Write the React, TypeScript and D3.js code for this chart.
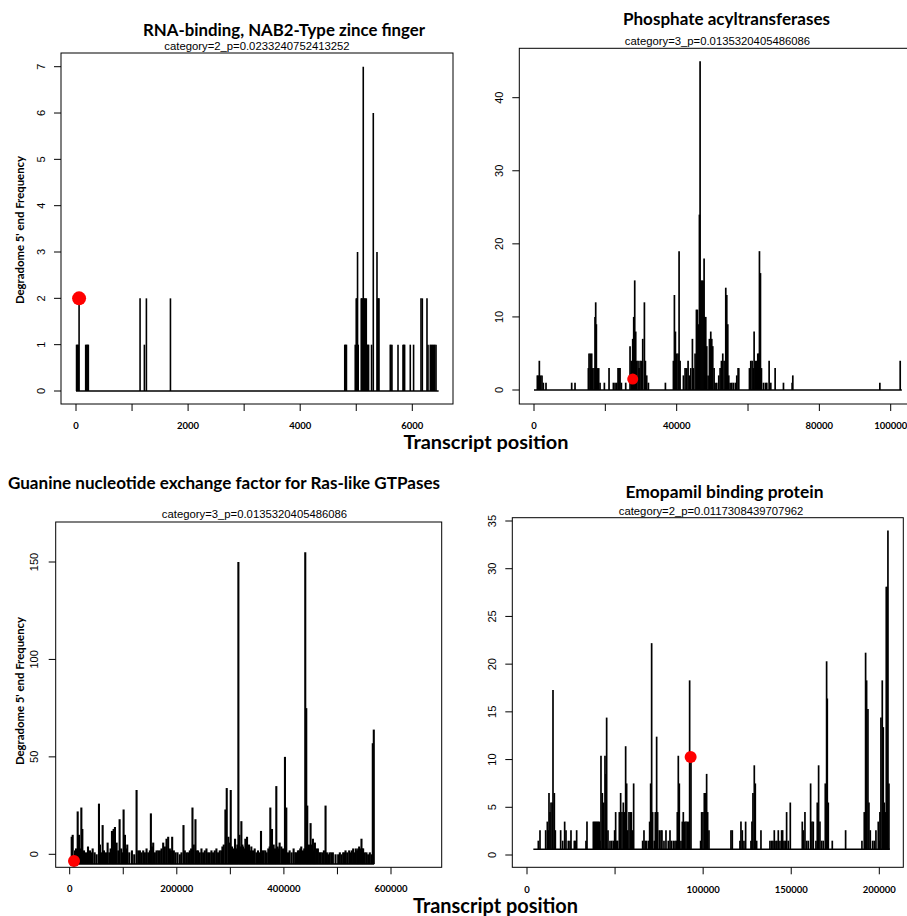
import React from 'react';
import * as d3 from 'd3';

// values: [transcript position, degradome 5' end frequency]
const nab2Hits: [number, number][] = [
  [10, 1], [25, 1], [40, 1], [55, 2], [173, 1], [190, 1], [208, 1], [220, 1],
  [1143, 2], [1220, 1], [1256, 2], [1685, 2],
  [4795, 1], [4810, 1], [4825, 1], [4982, 1], [5000, 2], [5009, 2], [5023, 3], [5035, 1],
  [5089, 2], [5100, 2], [5112, 2], [5125, 7], [5136, 2], [5150, 2], [5165, 2], [5179, 2],
  [5190, 1], [5205, 1], [5220, 1], [5273, 1], [5304, 6], [5370, 3], [5382, 2], [5395, 2],
  [5405, 2], [5607, 1], [5620, 1], [5637, 1], [5745, 1], [5834, 1], [5848, 1], [5863, 1],
  [5964, 1], [6023, 1], [6155, 2], [6179, 2], [6262, 2], [6280, 1], [6321, 1], [6340, 1],
  [6360, 1], [6380, 1], [6400, 1], [6423, 1],
];
const nab2Site: [number, number] = [55, 2];
const nab2Length = 6470;
const nab2XTicks = [0, 1000, 2000, 3000, 4000, 5000, 6000];
const nab2XLabels = ['0', '', '2000', '', '4000', '', '6000'];
const nab2YTicks = [0, 1, 2, 3, 4, 5, 6, 7];

const acylHits: [number, number][] = [
  [935, 2], [1216, 2], [1496, 4], [1870, 2], [2244, 2], [2618, 1], [3366, 1],
  [10566, 1], [11500, 1],
  [15240, 3], [15428, 5], [15800, 5], [16176, 5], [16456, 3], [16830, 3], [17110, 10],
  [17298, 12], [17484, 9], [17765, 3], [18140, 3], [18513, 1], [19730, 1], [21038, 3],
  [22253, 1], [22720, 1], [23190, 1], [23560, 3], [23843, 3], [24123, 3], [24500, 1], [25713, 1],
  [26928, 6], [27300, 4], [27676, 7], [27957, 10], [28237, 15], [28518, 8], [28800, 4],
  [29172, 4], [29453, 3], [29733, 4], [30107, 4], [30481, 7], [30950, 12], [31230, 4],
  [31600, 2], [32070, 1], [36840, 1],
  [39083, 4], [39364, 13], [39644, 8], [40018, 5], [40392, 5], [40673, 19], [40953, 4],
  [41888, 2], [42356, 3], [42823, 3], [43197, 4], [43571, 2], [43945, 3], [44413, 7],
  [44693, 3], [45161, 5], [45535, 11], [45815, 11], [46096, 9], [46376, 24], [46563, 45],
  [46844, 15], [47124, 15], [47405, 15], [47685, 18], [47872, 10], [48153, 10], [48433, 6],
  [48807, 2], [49181, 7], [49555, 8], [49836, 7], [50116, 6], [50490, 3], [50771, 1], [51238, 1],
  [51800, 2], [52173, 3], [52547, 4], [52921, 5], [53295, 4], [53763, 14], [54043, 13],
  [54324, 9], [54604, 2], [54978, 1], [55446, 1], [55913, 1], [56474, 1], [56848, 2],
  [57222, 3], [57409, 3],
  [60401, 3], [60775, 4], [61149, 4], [61523, 3], [61710, 8], [62084, 4], [62458, 4],
  [62739, 5], [63019, 5], [63206, 19], [63487, 16], [63767, 3], [64328, 1], [64889, 1],
  [65263, 1], [65918, 4], [66385, 1], [67601, 3], [69938, 1], [72369, 1], [72556, 2],
  [96960, 1], [102663, 4],
];
const acylSite: [number, number] = [27676, 1.5];
const acylLength = 103130;
const acylXTicks = [0, 20000, 40000, 60000, 80000, 100000];
const acylXLabels = ['0', '', '40000', '', '80000', '100000'];
const acylYTicks = [0, 10, 20, 30, 40];

const gefHits: [number, number][] = [
  [3728, 9], [5592, 10], [9941, 2], [11805, 3], [14911, 22], [17396, 10], [19882, 3],
  [21746, 24], [23609, 13], [26716, 2], [30444, 1], [34172, 4], [37899, 2], [40385, 1],
  [42870, 3], [46600, 1], [50325, 0], [54674, 26], [56538, 5], [59024, 1], [61510, 15],
  [63994, 2], [67722, 1], [70828, 6], [73935, 1], [76420, 3], [78905, 12], [80769, 8],
  [82012, 13], [84497, 14], [87603, 6], [90710, 2], [93195, 18], [96302, 3], [98787, 1],
  [100651, 23], [103136, 10], [105000, 3], [107485, 5], [111213, 1], [116183, 2],
  [120532, 0], [124881, 33], [127988, 2], [131094, 2], [134200, 1], [137307, 2],
  [140413, 1], [143520, 3], [146627, 1], [149733, 2], [151597, 21], [153461, 4],
  [155946, 6], [159053, 1], [162160, 2], [165266, 2], [168373, 2], [171480, 3],
  [174586, 6], [177692, 4], [180800, 8], [183905, 9], [187010, 3], [188874, 2],
  [191360, 9], [194467, 2], [197573, 1], [201301, 1], [205650, 0], [208757, 1],
  [212485, 15], [214969, 2], [218076, 1], [221183, 1], [224290, 2], [226774, 3],
  [229260, 24], [231744, 5], [234851, 18], [237336, 2], [239822, 2], [242928, 1],
  [246036, 3], [249141, 1], [252248, 2], [255355, 3], [258460, 1], [261567, 1],
  [264674, 2], [267780, 1], [270887, 2], [273993, 3], [277100, 1], [280206, 2],
  [283313, 2], [285176, 4], [287661, 5], [290768, 23], [293253, 34], [296360, 9],
  [298845, 6], [300709, 33], [303194, 4], [305680, 3], [308786, 8], [311271, 3],
  [313135, 5], [314999, 150], [316862, 10], [318726, 4], [320590, 17], [322454, 5],
  [323697, 4], [326182, 3], [328046, 8], [329910, 5], [331152, 9], [333016, 4],
  [334880, 5], [337365, 2], [339229, 4], [342336, 2], [345443, 3], [348549, 1],
  [351656, 2], [354762, 1], [357247, 12], [359732, 2], [362217, 2], [365324, 2],
  [367810, 1], [370916, 3], [373402, 4], [374644, 24], [376508, 8], [377751, 13],
  [379614, 4], [380857, 5], [383342, 3], [385828, 35], [388313, 4], [390177, 3],
  [392040, 6], [395147, 4], [398253, 3], [400117, 2], [401981, 50], [403224, 4],
  [404467, 24], [407573, 1], [410680, 2], [414408, 1], [418135, 3], [421242, 1],
  [423106, 1], [426213, 2], [428698, 2], [430562, 3], [432426, 4], [435532, 2],
  [438017, 3], [439881, 155], [441745, 75], [443609, 25], [445473, 4], [446716, 5],
  [448580, 3], [449822, 16], [451686, 5], [454172, 8], [456035, 2], [457900, 6],
  [460385, 3], [463491, 3], [466598, 1], [468462, 1], [471568, 1], [474675, 2],
  [477781, 25], [480267, 1], [482752, 0], [485237, 1], [488344, 1], [491450, 1],
  [496421, 0], [501398, 0], [504485, 1], [507590, 0], [510700, 1], [513185, 1],
  [515048, 2], [518155, 1], [521883, 2], [524368, 1], [526853, 2], [529338, 3],
  [531823, 1], [534309, 3], [536794, 2], [538658, 3], [540522, 4], [543007, 3],
  [544871, 8], [546735, 3], [547977, 3], [551084, 1], [554190, 1], [557297, 0],
  [560403, 1], [563510, 0], [565995, 57], [567859, 64],
];
const gefSite: [number, number] = [8077, -3.4];
const gefLength = 568500;
const gefXTicks = [0, 100000, 200000, 300000, 400000, 500000, 600000];
const gefXLabels = ['0', '', '200000', '', '400000', '', '600000'];
const gefYTicks = [0, 50, 100, 150];

const ebpHits: [number, number][] = [
  [6433, 1.5], [7379, 2.6], [10595, 2.6], [11541, 3.5], [12109, 2.6], [12487, 6.5],
  [13055, 4.5], [13622, 5.5], [14379, 5.5], [14758, 17.3], [15514, 6.5], [16082, 2.6],
  [19109, 2.6], [20244, 1.5], [21380, 3.5], [22136, 2.6], [23461, 1.5], [24407, 1.5],
  [24974, 2.6], [26866, 1.5], [27434, 1.5], [28191, 2.6], [33488, 1.5], [34056, 3.5],
  [37651, 3.5], [38218, 3.5], [38786, 3.5], [39354, 3.5], [39921, 3.5], [40489, 3.5],
  [41056, 3.5], [41435, 1.5], [42002, 10.4], [42759, 6.5], [43516, 5.5], [44273, 10.4],
  [44840, 8.5], [45219, 14.4], [45976, 2.6], [47111, 1.5], [48057, 1.5], [49003, 1.5],
  [49759, 2.6], [50327, 4.5], [50895, 1.5], [51462, 1.5], [52408, 4.5], [53165, 6.5],
  [53922, 4.5], [54679, 5.5], [55436, 4.5], [56003, 11.4], [56571, 7.5], [57138, 2.6],
  [57895, 4.5], [58652, 4.5], [59220, 4.5], [59976, 2.6], [60544, 7.5], [65652, 1.5],
  [66409, 2.6], [67166, 1.5], [67923, 1.5], [69058, 1.5], [69626, 3.5], [70193, 7.5],
  [70761, 22.2], [71328, 4.5], [72274, 1.5], [72842, 4.5], [73599, 12.4], [74166, 4.5],
  [75112, 2.6], [76058, 2.6], [76626, 2.6], [77761, 1.5], [78896, 2.6], [80221, 1.5],
  [81167, 2.6], [81923, 1.5], [83059, 1.5], [84005, 1.5], [84762, 1.5], [85329, 4.5],
  [85897, 10.4], [86465, 7.5], [87411, 1.5], [88167, 3.5], [88735, 4.5], [89492, 3.5],
  [90249, 3.5], [91006, 3.5], [91762, 3.5], [92330, 18.3], [93087, 10.4], [98573, 1.5],
  [99141, 4.5], [99898, 4.5], [100655, 6.5], [101411, 6.5], [101979, 8.5], [102546, 4.5],
  [103303, 2.6], [115790, 2.6], [116547, 2.6], [120899, 1.5], [121466, 3.5], [122223, 2.6],
  [123169, 1.5], [124115, 3.5], [127142, 1.5], [127710, 3.5], [128278, 6.5], [129035, 9.4],
  [129602, 7.5], [130359, 1.5], [132819, 2.6], [137927, 1.5], [138873, 1.5], [139630, 1.5],
  [140387, 2.6], [141333, 1.5], [141900, 1.5], [142657, 2.6], [143603, 1.5], [144549, 2.6],
  [145117, 2.6], [145874, 1.5], [146630, 1.5], [147387, 4.5], [148333, 1.5], [149468, 5.5],
  [156279, 3.5], [156847, 2.6], [157793, 4.5], [158739, 1.5], [159685, 1.5], [161010, 7.5],
  [161766, 3.5], [162523, 3.5], [164037, 1.5], [164794, 5.5], [165550, 9.4], [166307, 3.5],
  [167253, 1.5], [168199, 1.5], [169334, 7.5], [170091, 20.3], [170469, 16.4], [171037, 5.5],
  [173307, 1.5], [180875, 2.6], [190146, 1.5], [191470, 4.5], [192227, 21.2], [192795, 18.3],
  [193551, 15.3], [194119, 5.5], [194876, 2.6], [196200, 1.5], [197146, 1.5], [198092, 2.6],
  [199417, 3.5], [199985, 1.5], [200363, 4.5], [200931, 14.4], [201688, 18.3], [202255, 13.4],
  [202823, 5.5], [203390, 4.5], [203958, 28.1], [204526, 28.1], [204904, 34], [205472, 7.5],
];
const ebpSite: [number, number] = [92900, 10.27];
const ebpLength = 206000;
const ebpXTicks = [0, 50000, 100000, 150000, 200000];
const ebpXLabels = ['0', '', '100000', '150000', '200000'];
const ebpYTicks = [0, 5, 10, 15, 20, 25, 30, 35];

const BOLD = 'Lato, "Open Sans", sans-serif';
const PLAIN = '"Liberation Sans", Arial, sans-serif';

type PanelCfg = {
  title: string; titleX: number; titleY: number; titleW: number;
  sub: string; subX: number; subY: number;
  box: [number, number, number, number];
  xMap: [number, number, number, number]; // domain0, domain1, px0, px1
  yMap: [number, number, number, number];
  hits: [number, number][]; site: [number, number]; dotR: number; lw: number;
  base: number; start: number; length: number;
  xTicks: number[]; xLabels: string[]; yTicks: number[];
  yLabX: number; xLabY: number; ylabY?: number;
};

const panels: PanelCfg[] = [
  {
    title: 'RNA-binding, NAB2-Type zince finger', titleX: 284, titleY: 35.5, titleW: 282,
    sub: 'category=2_p=0.0233240752413252', subX: 257, subY: 50,
    box: [61, 53, 453, 404], xMap: [0, 6000, 76, 412.3], yMap: [0, 7, 391, 66.7],
    hits: nab2Hits, site: nab2Site, dotR: 7, lw: 1.6, base: 0, start: 0, length: nab2Length,
    xTicks: nab2XTicks, xLabels: nab2XLabels, yTicks: nab2YTicks,
    yLabX: 41, xLabY: 425, ylabY: 230,
  },
  {
    title: 'Phosphate acyltransferases', titleX: 726.5, titleY: 25, titleW: 207,
    sub: 'category=3_p=0.0135320405486086', subX: 717.5, subY: 45,
    box: [519.3, 48.3, 916, 404], xMap: [0, 100000, 534, 890.7], yMap: [0, 40, 390, 97.7],
    hits: acylHits, site: acylSite, dotR: 5.5, lw: 1.7, base: 0, start: 0, length: acylLength,
    xTicks: acylXTicks, xLabels: acylXLabels, yTicks: acylYTicks,
    yLabX: 499, xLabY: 425,
  },
  {
    title: 'Guanine nucleotide exchange factor for Ras-like GTPases', titleX: 224, titleY: 489.3, titleW: 432,
    sub: 'category=3_p=0.0135320405486086', subX: 254.5, subY: 518,
    box: [55.7, 522, 441.7, 867.3], xMap: [0, 600000, 69.7, 391], yMap: [0, 150, 854.3, 562],
    hits: gefHits, site: gefSite, dotR: 6, lw: 2.1, base: -5, start: 0, length: gefLength,
    xTicks: gefXTicks, xLabels: gefXLabels, yTicks: gefYTicks,
    yLabX: 34, xLabY: 888, ylabY: 691,
  },
  {
    title: 'Emopamil binding protein', titleX: 724.5, titleY: 498.3, titleW: 198,
    sub: 'category=2_p=0.0117308439707962', subX: 711, subY: 515,
    box: [512.3, 517.7, 903.3, 867.3], xMap: [0, 200000, 527, 879.3], yMap: [0, 35, 855, 521],
    hits: ebpHits, site: ebpSite, dotR: 6, lw: 1.7, base: 0.6, start: 3600, length: ebpLength,
    xTicks: ebpXTicks, xLabels: ebpXLabels, yTicks: ebpYTicks,
    yLabX: 492.3, xLabY: 889,
  },
];

const Panel = ({ p }: { p: PanelCfg }) => {
  const x = d3.scaleLinear().domain([p.xMap[0], p.xMap[1]]).range([p.xMap[2], p.xMap[3]]);
  const y = d3.scaleLinear().domain([p.yMap[0], p.yMap[1]]).range([p.yMap[2], p.yMap[3]]);
  const [l, t, r, b] = p.box;
  const yb = y(p.base);
  return (
    <g>
      <text x={p.titleX} y={p.titleY} textAnchor="middle" fontFamily={BOLD} fontWeight="bold"
        fontSize={17} textLength={p.titleW} lengthAdjust="spacingAndGlyphs">{p.title}</text>
      <text x={p.subX} y={p.subY} textAnchor="middle" fontFamily={PLAIN} fontSize={11.3}>{p.sub}</text>
      {p.hits.map(([pos, v], i) => (
        <line key={i} x1={x(pos)} x2={x(pos)} y1={yb} y2={y(v)} stroke="#000" strokeWidth={p.lw} />
      ))}
      <line x1={x(p.start)} x2={x(p.length)} y1={yb} y2={yb} stroke="#000" strokeWidth={1.5} />
      <circle cx={x(p.site[0])} cy={y(p.site[1])} r={p.dotR} fill="#ff0000" />
      <rect x={l} y={t} width={r - l} height={b - t} fill="none" stroke="#000" strokeWidth={1} />
      {p.yTicks.map((v) => (
        <g key={'y' + v}>
          <line x1={l - 7} x2={l} y1={y(v)} y2={y(v)} stroke="#000" strokeWidth={1} />
          <text transform={`translate(${p.yLabX},${y(v)}) rotate(-90)`} textAnchor="middle"
            dominantBaseline="central" fontFamily={PLAIN} fontSize={11}>{v}</text>
        </g>
      ))}
      {p.xTicks.map((v, i) => (
        <g key={'x' + v}>
          <line x1={x(v)} x2={x(v)} y1={b} y2={b + 7} stroke="#000" strokeWidth={1} />
          {p.xLabels[i] && (
            <text x={x(v)} y={p.xLabY} textAnchor="middle" dominantBaseline="central"
              fontFamily={BOLD} fontWeight="bold" fontSize={9.5}>{p.xLabels[i]}</text>
          )}
        </g>
      ))}
      {p.ylabY !== undefined && (
        <text transform={`translate(20,${p.ylabY}) rotate(-90)`} textAnchor="middle"
          dominantBaseline="central" fontFamily={BOLD} fontWeight="bold" fontSize={10.5}
          textLength={148} lengthAdjust="spacingAndGlyphs">Degradome 5' end Frequency</text>
      )}
    </g>
  );
};

export default function App() {
  return (
    <svg width={907} height={916} style={{ position: 'absolute', left: 0, top: 0, background: '#fff' }}>
      <rect width={907} height={916} fill="#fff" />
      {panels.map((p, i) => <Panel key={i} p={p} />)}
      <text x={486} y={449} textAnchor="middle" fontFamily={BOLD} fontWeight="bold" fontSize={19}
        textLength={165} lengthAdjust="spacingAndGlyphs">Transcript position</text>
      <text x={495.5} y={913} textAnchor="middle" fontFamily={BOLD} fontWeight="bold" fontSize={20}
        textLength={165} lengthAdjust="spacingAndGlyphs">Transcript position</text>
    </svg>
  );
}
